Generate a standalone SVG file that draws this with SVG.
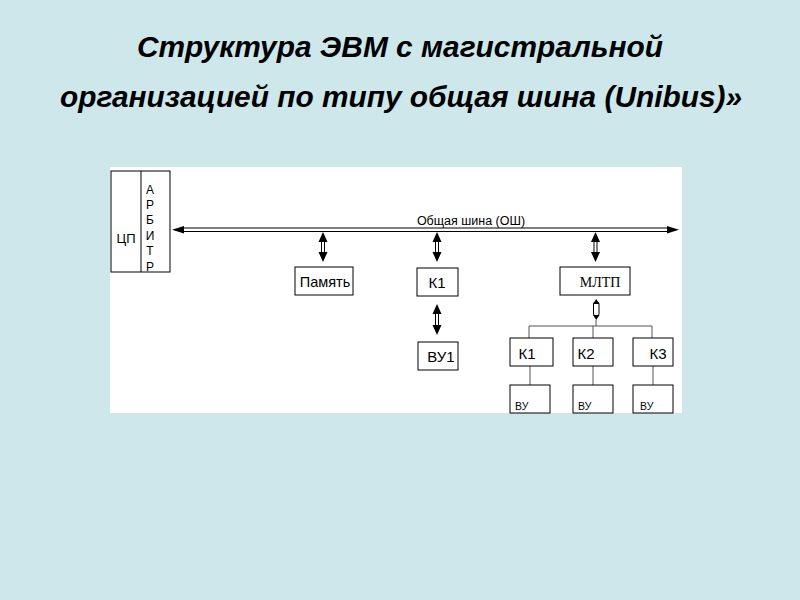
<svg xmlns="http://www.w3.org/2000/svg" width="800" height="600" viewBox="0 0 800 600">
<style>
.box{fill:#fff;stroke:#000;stroke-width:1}
.ln{stroke:#000;stroke-width:1;fill:none}
.gl{stroke:#555;stroke-width:1;fill:none}
.hd{fill:#000}
.t{font-family:"Liberation Sans",Arial,sans-serif;fill:#000}
.title{font-family:"Liberation Sans",Arial,sans-serif;font-weight:bold;font-style:italic;font-size:29px;fill:#000;text-anchor:middle}
</style>
<rect width="800" height="600" fill="#cde7eb"/>
<text class="title" x="400" y="57" textLength="526" lengthAdjust="spacingAndGlyphs">Структура ЭВМ с магистральной</text>
<text class="title" x="401" y="107" textLength="682" lengthAdjust="spacingAndGlyphs">организацией по типу общая шина (Unibus)»</text>
<rect x="110" y="167" width="572" height="246" fill="#fff"/>
<g id="cpu">
<rect class="box" x="111" y="171" width="59" height="101"/>
<line class="ln" x1="141" y1="171" x2="141" y2="272"/>
<text class="t" x="126" y="243" font-size="13" text-anchor="middle">ЦП</text>
<text class="t" font-size="12" text-anchor="middle"><tspan x="150" y="194">А</tspan><tspan x="150" y="209">Р</tspan><tspan x="150" y="224">Б</tspan><tspan x="150" y="240">И</tspan><tspan x="150" y="255">Т</tspan><tspan x="150" y="271">Р</tspan></text>
</g>
<g id="connectors">
<line class="ln" x1="180" y1="228" x2="670" y2="228"/>
<line class="ln" x1="180" y1="231.5" x2="670" y2="231.5"/>
<polygon class="hd" points="172,229.8 184,226 184,233.5"/>
<polygon class="hd" points="679,229.8 667,226 667,233.5"/>
<text class="t" x="471" y="225" font-size="12.5" text-anchor="middle" fill="#333">Общая шина (ОШ)</text>
<g id="a1">
<line class="ln" x1="321.5" y1="240" x2="321.5" y2="254"/><line class="ln" x1="324.5" y1="240" x2="324.5" y2="254"/>
<polygon class="hd" points="323,232 318.5,242 327.5,242"/><polygon class="hd" points="323,262 318.5,252 327.5,252"/>
</g>
<g id="a2">
<line class="ln" x1="435.5" y1="240" x2="435.5" y2="254"/><line class="ln" x1="438.5" y1="240" x2="438.5" y2="254"/>
<polygon class="hd" points="437,232 432.5,242 441.5,242"/><polygon class="hd" points="437,262 432.5,252 441.5,252"/>
</g>
<g id="a3">
<line class="ln" x1="435.5" y1="312" x2="435.5" y2="327"/><line class="ln" x1="438.5" y1="312" x2="438.5" y2="327"/>
<polygon class="hd" points="437,304 432.5,314 441.5,314"/><polygon class="hd" points="437,335 432.5,325 441.5,325"/>
</g>
<g id="a4">
<line class="ln" x1="594" y1="240" x2="594" y2="254"/><line class="ln" x1="597" y1="240" x2="597" y2="254"/>
<polygon class="hd" points="595.5,232 591,242 600,242"/><polygon class="hd" points="595.5,262 591,252 600,252"/>
</g>
<g id="a5">
<path class="ln" d="M594.5,302 L593.5,304 V314 L594.5,316 M598,302 L599,304 V314 L598,316"/>
<polygon class="hd" points="596.2,299 593,304 599.5,304"/><polygon class="hd" points="596.2,320 593,315 599.5,315"/>
</g>
<path class="gl" d="M596,320 V326 M529,338 V326 H652 V338 M593,326 V338"/>
<path class="gl" d="M530,366 V385 M593,366 V385 M653,366 V385"/>
</g>
<g id="mem"><rect class="box" x="295" y="267" width="58" height="28"/><text class="t" x="325" y="287" font-size="14.5" text-anchor="middle">Память</text></g>
<g id="k1"><rect class="box" x="417" y="268" width="41" height="28"/><text class="t" x="437" y="288" font-size="15" text-anchor="middle">К1</text></g>
<g id="vu1"><rect class="box" x="418" y="342" width="40" height="28"/><text class="t" x="441" y="362" font-size="15" text-anchor="middle">ВУ1</text></g>
<g id="mltp"><rect class="box" x="560" y="267" width="70" height="28"/><text x="600" y="287" font-size="14" text-anchor="middle" font-family="'Liberation Serif',serif">МЛТП</text></g>
<g id="kk1"><rect class="box" x="510" y="338" width="43" height="28"/><text class="t" x="527" y="359" font-size="15" text-anchor="middle">К1</text></g>
<g id="kk2"><rect class="box" x="573" y="338" width="40" height="28"/><text class="t" x="586" y="359" font-size="15" text-anchor="middle">К2</text></g>
<g id="kk3"><rect class="box" x="633" y="338" width="40" height="28"/><text class="t" x="658" y="359" font-size="15" text-anchor="middle">К3</text></g>
<g id="vu_a"><rect class="box" x="510" y="385" width="40" height="28"/><text class="t" x="515" y="410" font-size="10.5">ВУ</text></g>
<g id="vu_b"><rect class="box" x="573" y="385" width="40" height="28"/><text class="t" x="578" y="410" font-size="10.5">ВУ</text></g>
<g id="vu_c"><rect class="box" x="633" y="385" width="40" height="28"/><text class="t" x="640" y="410" font-size="10.5">ВУ</text></g>
</svg>
